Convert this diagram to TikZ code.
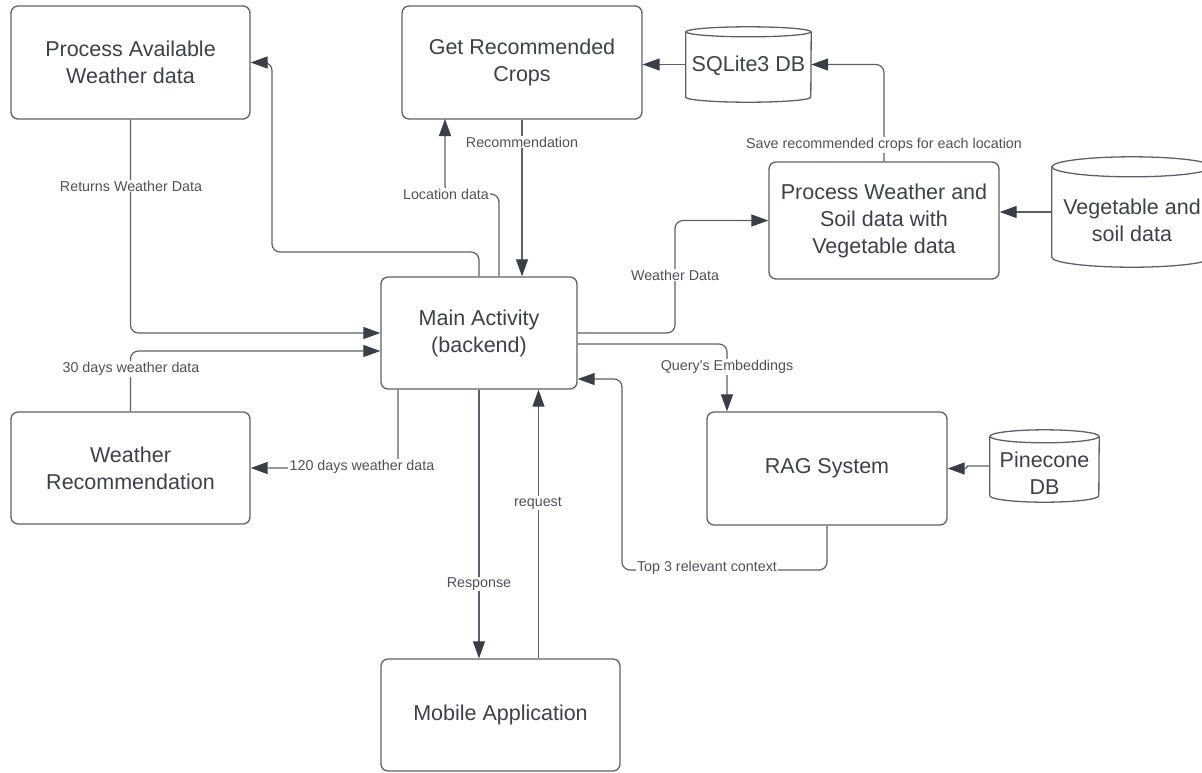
\documentclass[tikz,border=0pt]{standalone}
\usepackage{fontspec}
\setmainfont{Liberation Sans}
\usetikzlibrary{arrows.meta}

\definecolor{edge}{HTML}{5C6169}
\definecolor{ink}{HTML}{3C4149}
\definecolor{tip}{HTML}{3A3F47}
\definecolor{labelink}{HTML}{4D525A}

% outline of a database drum around a (borderless) node
% #1 node name, #2 x radius, #3 y radius of the end ellipses
\newcommand\drumshape[3]{%
  \draw[draw=edge, line width=1.3pt] ([yshift=-#3]#1.north) ellipse[x radius=#2, y radius=#3];
  \draw[draw=edge, line width=1.3pt] ([yshift=-#3]#1.north west) -- ([yshift=#3]#1.south west)
     arc[start angle=180, end angle=360, x radius=#2, y radius=#3]
     -- ([yshift=-#3]#1.north east);
}

\begin{document}
\begin{tikzpicture}[x=1pt, y=-1pt,
  procbox/.style={draw=edge, line width=1.3pt, rounded corners=7pt, inner sep=0pt,
    text=ink, align=center, font=\fontsize{21.5}{27}\selectfont},
  drum/.style={inner sep=0pt},
  drumtext/.style={text=ink, align=center, font=\fontsize{21.5}{27}\selectfont},
  conn/.style={draw=edge, line width=1.2pt, rounded corners=8pt,
    -{Triangle[length=17pt, width=12pt, color=tip]}},
  flowlabel/.style={fill=white, inner xsep=1.5pt, inner ysep=1pt, text=labelink,
    font=\fontsize{14.3}{16}\selectfont},
]
\useasboundingbox (0,0) rectangle (1202,772);
\clip (0,0) rectangle (1202,772);

% process boxes
\node[procbox, minimum width=239pt, minimum height=113pt] (pa)   at (130.5,62.5) {Process Available\\Weather data};
\node[procbox, minimum width=240pt, minimum height=113pt] (grc)  at (522,62.5)   {Get Recommended\\Crops};
\node[procbox, minimum width=230pt, minimum height=117pt] (pws)  at (884,220.5)  {Process Weather and\\Soil data with\\Vegetable data};
\node[procbox, minimum width=196pt, minimum height=112pt] (main) at (479,333)    {Main Activity\\(backend)};
\node[procbox, minimum width=239pt, minimum height=112pt] (wr)   at (130.5,468)  {Weather\\Recommendation};
\node[procbox, minimum width=240pt, minimum height=113pt] (rag)  at (827,468.5)  {RAG System};
\node[procbox, minimum width=239pt, minimum height=112pt] (mob)  at (500.5,715)  {Mobile Application};

% databases
\node[drum, minimum width=125pt, minimum height=75pt]  (sql)  at (748.5,64.5) {};
\node[drum, minimum width=160pt, minimum height=110pt] (veg)  at (1132,212)   {};
\node[drum, minimum width=109pt, minimum height=72pt]  (pine) at (1044.5,466) {};
\drumshape{sql}{62.5pt}{5pt}
\drumshape{veg}{80pt}{10pt}
\drumshape{pine}{54.5pt}{6.5pt}
\node[drumtext] (sqltext)  at (748.5,66)  {SQLite3 DB};
\node[drumtext] (vegtext)  at (1132,220)  {Vegetable and\\soil data};
\node[drumtext] (pinetext) at (1044.5,473) {Pinecone\\DB};

% connectors
\draw[conn] (main.north) |- (272,252) |- (pa.east);
\draw[conn] ([xshift=20pt]main.north) |- (445,194) -- (445,119);
\draw[conn] (grc.south) -- (grc.south |- main.north);
\draw[conn] (sql.west) -- (sql.west -| grc.east);
\draw[conn] (pws.north) |- (sql.east);
\draw[conn] (veg.west) -- (veg.west -| pws.east);
\draw[conn] (main.east) -| (675,220.5) -- (pws.west);
\draw[conn] ([yshift=-11pt]main.east) -| ([xshift=-100pt]rag.north);
\draw[conn] (rag.south) |- (622,570) |- ([yshift=-46pt]main.east);
\draw[conn, rounded corners=1pt] (pine.west) -- ++(-23,0) |- (rag.east);
\draw[conn] (pa.south) |- (main.west);
\draw[conn] (wr.north) |- ([yshift=-18pt]main.west);
\draw[conn] ([xshift=-81pt]main.south) |- (wr.east);
\draw[conn] (main.south) -- (main.south |- mob.north);
\draw[conn] ([xshift=38pt]mob.north) -- ([xshift=38pt]mob.north |- main.south);

% connector labels
\node[flowlabel] (l1)  at (131,186)  {Returns Weather Data};
\node[flowlabel] (l2)  at (446,194)  {Location data};
\node[flowlabel] (l3)  at (522,142)  {Recommendation};
\node[flowlabel] (l4)  at (884,145)  {Save recommended crops for each location};
\node[flowlabel] (l5)  at (675,275)  {Weather Data};
\node[flowlabel] (l6)  at (727,367)  {Query's Embeddings};
\node[flowlabel] (l7)  at (707,568)  {Top 3 relevant context};
\node[flowlabel] (l8)  at (131,369)  {30 days weather data};
\node[flowlabel] (l9)  at (362,467)  {120 days weather data};
\node[flowlabel] (l10) at (479,584)  {Response};
\node[flowlabel] (l11) at (538,503)  {request};
\end{tikzpicture}
\end{document}
